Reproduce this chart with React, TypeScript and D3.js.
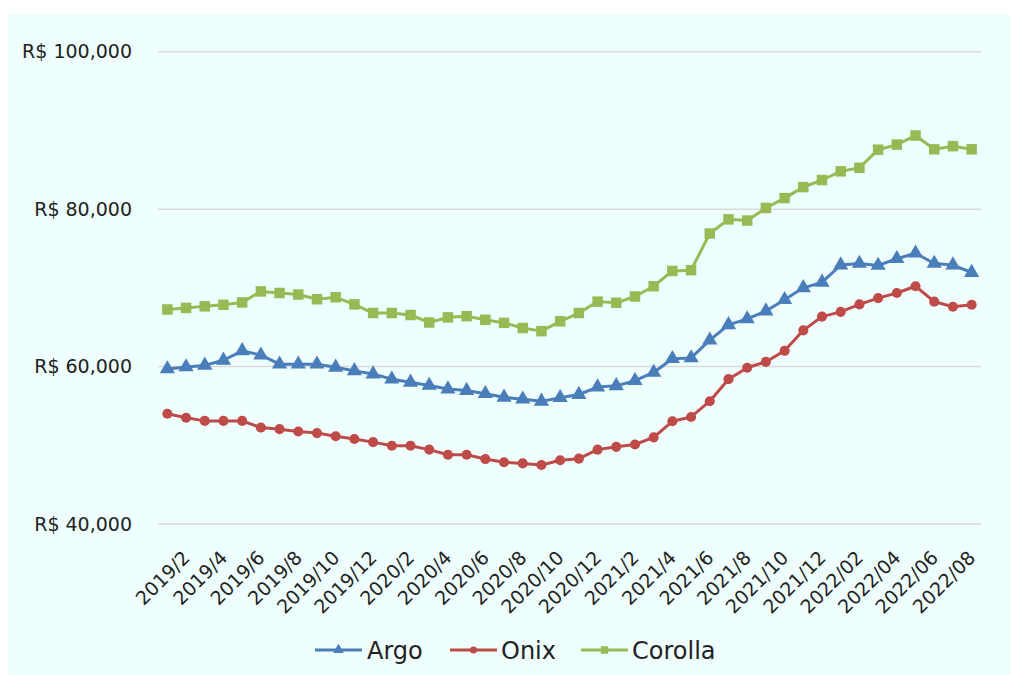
import React from "react";
import * as d3 from "d3";

const categories: string[] = [
  "2019/1", "2019/2", "2019/3", "2019/4", "2019/5", "2019/6", "2019/7", "2019/8", "2019/9", "2019/10", "2019/11", "2019/12",
  "2020/1", "2020/2", "2020/3", "2020/4", "2020/5", "2020/6", "2020/7", "2020/8", "2020/9", "2020/10", "2020/11", "2020/12",
  "2021/1", "2021/2", "2021/3", "2021/4", "2021/5", "2021/6", "2021/7", "2021/8", "2021/9", "2021/10", "2021/11", "2021/12",
  "2022/01", "2022/02", "2022/03", "2022/04", "2022/05", "2022/06", "2022/07", "2022/08",
];

const tickLabels: string[] = [
  "2019/2", "2019/4", "2019/6", "2019/8", "2019/10", "2019/12",
  "2020/2", "2020/4", "2020/6", "2020/8", "2020/10", "2020/12",
  "2021/2", "2021/4", "2021/6", "2021/8", "2021/10", "2021/12",
  "2022/02", "2022/04", "2022/06", "2022/08",
];

const argo: number[] = [
  59700, 59950, 60150, 60800, 62000, 61450, 60300, 60300, 60300, 59900, 59450, 59050,
  58400, 58000, 57600, 57150, 56950, 56550, 56100, 55850, 55580, 56050, 56450, 57400,
  57550, 58200, 59250, 61000, 61100, 63350, 65300, 66050, 67050, 68500, 70000, 70700,
  72900, 73100, 72850, 73700, 74400, 73100, 72900, 71950,
];

const onix: number[] = [
  54000, 53500, 53100, 53100, 53100, 52250, 52050, 51750, 51550, 51150, 50800, 50400,
  49950, 49950, 49450, 48800, 48800, 48250, 47850, 47700, 47500, 48100, 48300, 49450,
  49800, 50100, 51000, 53050, 53600, 55600, 58400, 59850, 60600, 62000, 64600, 66350,
  66950, 67900, 68700, 69350, 70200, 68250, 67600, 67850,
];

const corolla: number[] = [
  67250, 67450, 67650, 67850, 68150, 69550, 69350, 69150, 68550, 68800, 67900, 66800,
  66800, 66550, 65600, 66250, 66400, 65950, 65550, 64900, 64500, 65750, 66800, 68250,
  68100, 68900, 70200, 72150, 72250, 76900, 78700, 78550, 80150, 81400, 82800, 83700,
  84800, 85250, 87550, 88200, 89350, 87600, 88000, 87600,
];

const yTicks: number[] = [40000, 60000, 80000, 100000];

const seriesNames = ["Argo", "Onix", "Corolla"];
const seriesColors = ["#4A7EBB", "#BE4B48", "#98B954"];
const seriesShapes = [d3.symbolTriangle, d3.symbolCircle, d3.symbolSquare];
const seriesSizes = [100, 80, 110];

export default function App() {
  const W = 1012;
  const H = 675;
  const x = d3.scaleBand<string>().domain(categories).range([158, 981]);
  const y = d3.scaleLinear().domain([40000, 100000]).range([524, 51.7]);
  const cx = (c: string) => (x(c) as number) + x.bandwidth() / 2;
  const data = [argo, onix, corolla];
  const line = d3
    .line<number>()
    .x((_, i) => cx(categories[i]))
    .y((v) => y(v));
  const fmt = d3.format(",");
  const font = "'DejaVu Sans', Verdana, sans-serif";

  const legendItems = [
    { lx: 315, tx: 367 },
    { lx: 450, tx: 501 },
    { lx: 581, tx: 632 },
  ];

  return (
    <svg
      width={W}
      height={H}
      style={{ position: "absolute", left: 0, top: 0 }}
      fontFamily={font}
    >
      <rect x={0} y={0} width={W} height={H} fill="#ffffff" />
      <rect x={8} y={14} width={1002} height={H - 14} fill="#EFFEFF" />
      {yTicks.map((t) => (
        <g key={t}>
          <line x1={158} x2={981} y1={y(t)} y2={y(t)} stroke="#D9D9D9" strokeWidth={1.5} />
          <text
            x={132}
            y={y(t)}
            dy="0.35em"
            textAnchor="end"
            fontSize={19}
            fill="#222"
          >
            {"R$ " + fmt(t)}
          </text>
        </g>
      ))}
      {tickLabels.map((lab) => {
        const px = cx(lab);
        return (
          <text
            key={lab}
            transform={`translate(${px + 5},${559}) rotate(-45)`}
            textAnchor="end"
            fontSize={19}
            fill="#222"
          >
            {lab}
          </text>
        );
      })}
      {data.map((vals, si) => (
        <g key={seriesNames[si]}>
          <path
            d={line(vals) || ""}
            fill="none"
            stroke={seriesColors[si]}
            strokeWidth={3}
            strokeLinejoin="round"
          />
          {vals.map((v, i) => (
            <path
              key={i}
              d={d3.symbol().type(seriesShapes[si]).size(seriesSizes[si])() || ""}
              transform={`translate(${cx(categories[i])},${y(v)})`}
              fill={seriesColors[si]}
            />
          ))}
        </g>
      ))}
      {legendItems.map((it, si) => (
        <g key={si}>
          <line
            x1={it.lx}
            x2={it.lx + 47}
            y1={650}
            y2={650}
            stroke={seriesColors[si]}
            strokeWidth={3}
          />
          <path
            d={d3.symbol().type(seriesShapes[si]).size(seriesSizes[si] * 0.5)() || ""}
            transform={`translate(${it.lx + 23.5},650)`}
            fill={seriesColors[si]}
          />
          <text x={it.tx} y={650} dy="0.36em" fontSize={24} fill="#222">
            {seriesNames[si]}
          </text>
        </g>
      ))}
    </svg>
  );
}
